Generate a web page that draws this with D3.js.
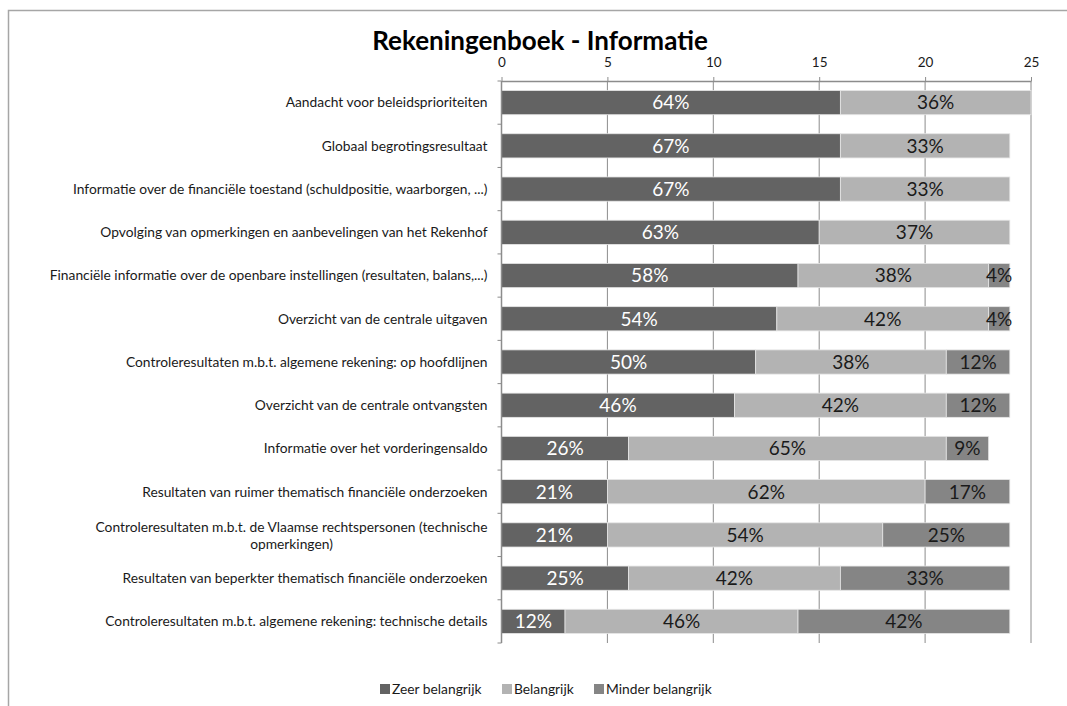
<!DOCTYPE html>
<html>
<head>
<meta charset="utf-8">
<script src="https://cdn.jsdelivr.net/npm/d3@7"></script>
<style>
  body { margin: 0; background: #fff; }
  text { font-family: Lato, "Open Sans", sans-serif; }
</style>
</head>
<body>
<script>
'use strict';

// categories, top to bottom
const categories = [
  "Aandacht voor beleidsprioriteiten",
  "Globaal begrotingsresultaat",
  "Informatie over de financiële toestand (schuldpositie, waarborgen, ...)",
  "Opvolging van opmerkingen en aanbevelingen van het Rekenhof",
  "Financiële informatie over de openbare instellingen (resultaten, balans,...)",
  "Overzicht van de centrale uitgaven",
  "Controleresultaten m.b.t. algemene rekening: op hoofdlijnen",
  "Overzicht van de centrale ontvangsten",
  "Informatie over het vorderingensaldo",
  "Resultaten van ruimer thematisch financiële onderzoeken",
  "Controleresultaten m.b.t. de Vlaamse rechtspersonen (technische|opmerkingen)",
  "Resultaten van beperkter thematisch financiële onderzoeken",
  "Controleresultaten m.b.t. algemene rekening: technische details"
];

const seriesNames = ["Zeer belangrijk", "Belangrijk", "Minder belangrijk"];

// counts (bar lengths)
const zeer   = [16, 16, 16, 15, 14, 13, 12, 11, 6, 5, 5, 6, 3];
const belang = [9, 8, 8, 9, 9, 10, 9, 10, 15, 15, 13, 10, 11];
const minder = [0, 0, 0, 0, 1, 1, 3, 3, 2, 4, 6, 8, 10];

// percentage labels as printed on the bars
const zeerPct   = [64, 67, 67, 63, 58, 54, 50, 46, 26, 21, 21, 25, 12];
const belangPct = [36, 33, 33, 37, 38, 42, 38, 42, 65, 62, 54, 42, 46];
const minderPct = [null, null, null, null, 4, 4, 12, 12, 9, 17, 25, 33, 42];

const xTicks = [0, 5, 10, 15, 20, 25];

const width = 1067;
const height = 706;
const colors = ["#636363", "#b3b3b3", "#858585"];
const labelColors = ["#ffffff", "#1a1a1a", "#1a1a1a"];
const catFont = '13.8px';

const svg = d3.select('body')
  .append('svg')
  .attr('width', width)
  .attr('height', height);

// chart border (only left & top visible)
svg.append('path')
  .attr('d', 'M8.5,' + height + 'V10.5H' + width)
  .attr('fill', 'none')
  .attr('stroke', '#a6a6a6')
  .attr('stroke-width', 1.5);

const plot = { left: 501.5, right: 1031, top: 81, bottom: 643 };

const xScale = d3.scaleLinear()
  .domain([0, 25])
  .range([plot.left, plot.right]);

const yScale = d3.scaleBand()
  .domain(d3.range(categories.length))
  .range([plot.top, plot.bottom])
  .paddingInner(0.44)
  .paddingOuter(0.22);

// gridlines
svg.append('g')
  .selectAll('line')
  .data(xTicks.slice(1))
  .enter()
  .append('line')
  .attr('x1', d => xScale(d))
  .attr('x2', d => xScale(d))
  .attr('y1', plot.top)
  .attr('y2', plot.bottom)
  .attr('stroke', '#8c8c8c')
  .attr('stroke-width', 1);

// stacked bars
const series = [zeer, belang, minder];
const pcts = [zeerPct, belangPct, minderPct];

series.forEach(function(vals, s) {
  const g = svg.append('g');
  const rows = vals.map(function(v, i) {
    let start = 0;
    for (let k = 0; k < s; k++) start += series[k][i];
    return { i: i, start: start, v: v, pct: pcts[s][i] };
  }).filter(d => d.v > 0);

  g.selectAll('rect')
    .data(rows)
    .enter()
    .append('rect')
    .attr('x', d => xScale(d.start))
    .attr('y', d => yScale(d.i))
    .attr('width', d => xScale(d.start + d.v) - xScale(d.start))
    .attr('height', yScale.bandwidth())
    .attr('fill', colors[s])
    .attr('stroke', '#e6e6e6')
    .attr('stroke-width', 0.8);

  g.selectAll('text')
    .data(rows.filter(d => d.pct != null))
    .enter()
    .append('text')
    .attr('x', d => xScale(d.start + d.v / 2))
    .attr('y', d => yScale(d.i) + yScale.bandwidth() / 2)
    .attr('dy', '0.36em')
    .attr('text-anchor', 'middle')
    .style('font-size', '19px')
    .attr('fill', labelColors[s])
    .text(d => d.pct + '%');
});

// top axis
const xAxis = d3.axisTop(xScale)
  .tickValues(xTicks)
  .tickSize(4)
  .tickSizeOuter(0);
const gx = svg.append('g')
  .attr('transform', 'translate(0,' + plot.top + ')')
  .call(xAxis);
gx.select('.domain').attr('stroke', '#8c8c8c').attr('stroke-width', 1.5);
gx.selectAll('.tick line').attr('stroke', '#8c8c8c');
gx.selectAll('.tick text')
  .attr('y', -14)
  .attr('fill', '#1a1a1a')
  .style('font-size', '13.5px')
  .style('font-family', 'Lato, sans-serif');

// left axis line with category boundary ticks
svg.append('line')
  .attr('x1', plot.left).attr('x2', plot.left)
  .attr('y1', plot.top).attr('y2', plot.bottom)
  .attr('stroke', '#8c8c8c').attr('stroke-width', 1.5);
const step = (plot.bottom - plot.top) / categories.length;
svg.append('g')
  .selectAll('line')
  .data(d3.range(categories.length + 1))
  .enter()
  .append('line')
  .attr('x1', plot.left - 4).attr('x2', plot.left)
  .attr('y1', d => plot.top + d * step)
  .attr('y2', d => plot.top + d * step)
  .attr('stroke', '#8c8c8c');

// category labels
const labelX = plot.left - 14;
categories.forEach(function(c, i) {
  const lines = c.split('|');
  const cy = yScale(i) + yScale.bandwidth() / 2;
  if (lines.length === 1) {
    svg.append('text')
      .attr('x', labelX)
      .attr('y', cy)
      .attr('dy', '0.35em')
      .attr('text-anchor', 'end')
      .attr('fill', '#1a1a1a')
      .style('font-size', catFont)
      .text(c);
  } else {
    const t1 = svg.append('text')
      .attr('x', labelX)
      .attr('y', cy - 8)
      .attr('dy', '0.35em')
      .attr('text-anchor', 'end')
      .attr('fill', '#1a1a1a')
      .style('font-size', catFont)
      .text(lines[0]);
    const w = t1.node().getComputedTextLength();
    svg.append('text')
      .attr('x', labelX - w / 2)
      .attr('y', cy + 9)
      .attr('dy', '0.35em')
      .attr('text-anchor', 'middle')
      .attr('fill', '#1a1a1a')
      .style('font-size', catFont)
      .text(lines[1]);
  }
});

// title
svg.append('text')
  .attr('x', 540)
  .attr('y', 50)
  .attr('text-anchor', 'middle')
  .attr('fill', '#000')
  .style('font-size', '26px')
  .style('font-weight', 'bold')
  .text('Rekeningenboek - Informatie');

// legend
const legendX = [380, 502, 594];
const legend = svg.append('g');
seriesNames.forEach(function(name, s) {
  legend.append('rect')
    .attr('x', legendX[s])
    .attr('y', 684)
    .attr('width', 10)
    .attr('height', 10)
    .attr('fill', colors[s]);
  legend.append('text')
    .attr('x', legendX[s] + 12)
    .attr('y', 689)
    .attr('dy', '0.35em')
    .attr('fill', '#1a1a1a')
    .style('font-size', catFont)
    .text(name);
});
</script>
</body>
</html>
